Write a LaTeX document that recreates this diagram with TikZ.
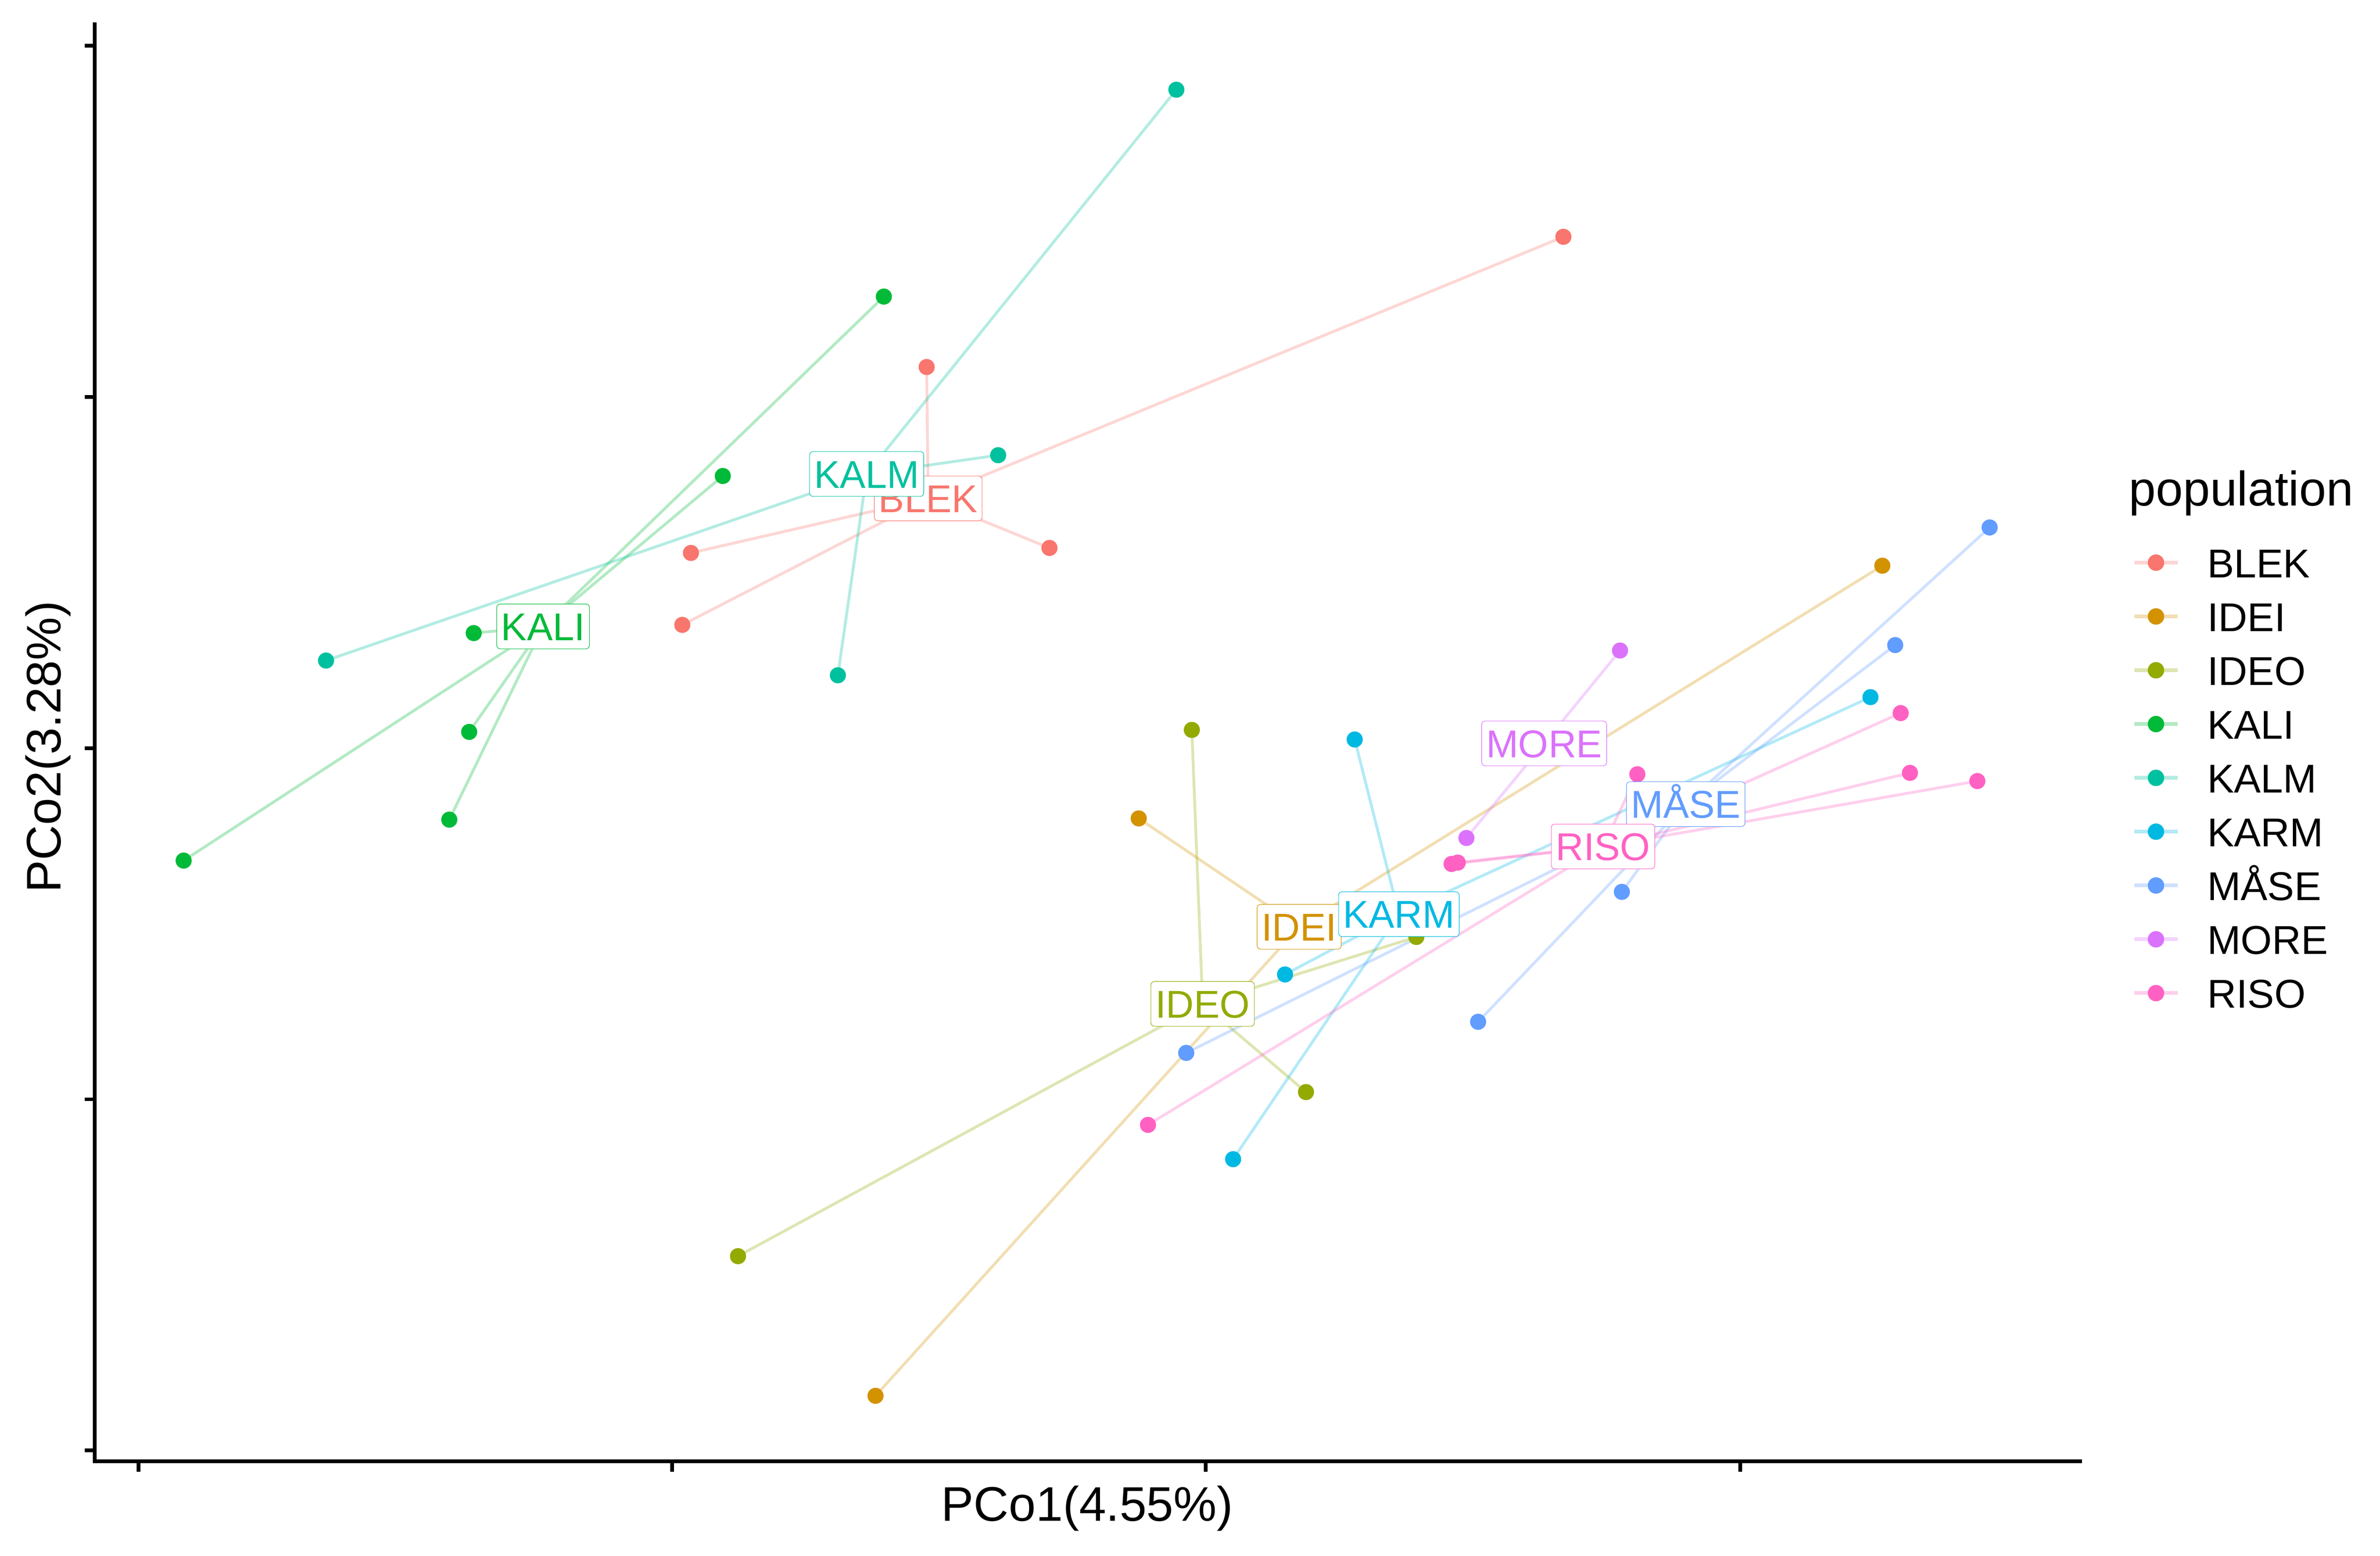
\documentclass[tikz,border=0pt]{standalone}
\usepackage{fontspec}
\setmainfont{Liberation Sans}
\definecolor{cBLEK}{HTML}{F8766D}
\definecolor{cIDEI}{HTML}{D39200}
\definecolor{cIDEO}{HTML}{93AA00}
\definecolor{cKALI}{HTML}{00BA38}
\definecolor{cKALM}{HTML}{00C19F}
\definecolor{cKARM}{HTML}{00B9E3}
\definecolor{cMASE}{HTML}{619CFF}
\definecolor{cMORE}{HTML}{DB72FB}
\definecolor{cRISO}{HTML}{FF61C3}
\tikzset{
  seg/.style={draw=#1, draw opacity=0.3, line width=1.85pt},
  pt/.style={fill=#1},
  lab/.style={draw=#1, fill=white, text=#1, rounded corners=2.3pt, line width=0.35pt,
    inner xsep=2.9pt, inner ysep=5.55pt, text height=18.4pt, text depth=0pt,
    font=\fontsize{25.5}{30}\selectfont},
  axisline/.style={line width=2.5pt, black},
  tickline/.style={line width=2.4pt, black},
  keyline/.style={draw=#1, draw opacity=0.3, line width=2.5pt},
  legtext/.style={anchor=base west, inner sep=0pt, font=\fontsize{26.5}{30}\selectfont},
  titletext/.style={inner sep=0pt, font=\fontsize{32}{38}\selectfont}
}
\begin{document}
\begin{tikzpicture}[x=1pt,y=-1pt]
\useasboundingbox (0,0) rectangle (1568,1025);
% centroids
\coordinate (cBLEK) at (611.5,328.4);
\coordinate (cIDEI) at (855.9,610.6);
\coordinate (cIDEO) at (792.3,661.4);
\coordinate (cKALI) at (357.8,412.7);
\coordinate (cKALM) at (571.0,312.3);
\coordinate (cKARM) at (921.6,602.3);
\coordinate (cMASE) at (1110.6,529.8);
\coordinate (cMORE) at (1017.3,489.8);
\coordinate (cRISO) at (1056.1,557.7);
% points
\coordinate (BLEK1) at (1030,156);
\coordinate (BLEK2) at (610.5,241.8);
\coordinate (BLEK3) at (691.4,361.0);
\coordinate (BLEK4) at (455.2,364.3);
\coordinate (BLEK5) at (449.5,411.7);
\coordinate (IDEI1) at (1240.1,372.7);
\coordinate (IDEI2) at (750.2,539.2);
\coordinate (IDEI3) at (576.8,919.6);
\coordinate (IDEO1) at (785.2,480.9);
\coordinate (IDEO2) at (933.1,617.3);
\coordinate (IDEO3) at (860.4,719.5);
\coordinate (IDEO4) at (486.2,827.6);
\coordinate (KALI1) at (582.3,195.4);
\coordinate (KALI2) at (476.2,313.6);
\coordinate (KALI3) at (312.1,417.1);
\coordinate (KALI4) at (309.1,482.2);
\coordinate (KALI5) at (296,540);
\coordinate (KALI6) at (121,567);
\coordinate (KALM1) at (775.0,59.1);
\coordinate (KALM2) at (657.6,299.9);
\coordinate (KALM3) at (552.0,444.9);
\coordinate (KALM4) at (214.8,435.2);
\coordinate (KARM1) at (892.5,487.2);
\coordinate (KARM2) at (1232.3,459.3);
\coordinate (KARM3) at (846.6,642.0);
\coordinate (KARM4) at (812.4,763.7);
\coordinate (MASE1) at (1310.8,347.5);
\coordinate (MASE2) at (1248.6,425.0);
\coordinate (MASE3) at (1068.5,587.6);
\coordinate (MASE4) at (973.8,673.2);
\coordinate (MASE5) at (781.5,693.7);
\coordinate (MORE1) at (1067.3,428.6);
\coordinate (MORE2) at (966.1,552.1);
\coordinate (RISO1) at (1252.2,469.8);
\coordinate (RISO2) at (1258.3,509.2);
\coordinate (RISO3) at (1302.7,514.6);
\coordinate (RISO4) at (1078.7,510.1);
\coordinate (RISO5) at (960.4,568.3);
\coordinate (RISO6) at (956.3,569.2);
\coordinate (RISO7) at (756.3,741.1);
% axes
\draw[axisline] (62.5,14.8) -- (62.5,962.7) -- (1371.7,962.7);
\foreach \yy in {30.2,261.5,492.9,724.3,955.6} \draw[tickline] (55.7,\yy) -- (62.5,\yy);
\foreach \xx in {91.2,442.7,794.4,1146.5} \draw[tickline] (\xx,962.7) -- (\xx,969.5);
% segments
\foreach \i in {1,...,5} \draw[seg=cBLEK] (cBLEK) -- (BLEK\i);
\foreach \i in {1,...,3} \draw[seg=cIDEI] (cIDEI) -- (IDEI\i);
\foreach \i in {1,...,4} \draw[seg=cIDEO] (cIDEO) -- (IDEO\i);
\foreach \i in {1,...,6} \draw[seg=cKALI] (cKALI) -- (KALI\i);
\foreach \i in {1,...,4} \draw[seg=cKALM] (cKALM) -- (KALM\i);
\foreach \i in {1,...,4} \draw[seg=cKARM] (cKARM) -- (KARM\i);
\foreach \i in {1,...,5} \draw[seg=cMASE] (cMASE) -- (MASE\i);
\foreach \i in {1,...,2} \draw[seg=cMORE] (cMORE) -- (MORE\i);
\foreach \i in {1,...,7} \draw[seg=cRISO] (cRISO) -- (RISO\i);
% points
\foreach \i in {1,...,5} \fill[pt=cBLEK] (BLEK\i) circle (5.3);
\foreach \i in {1,...,3} \fill[pt=cIDEI] (IDEI\i) circle (5.3);
\foreach \i in {1,...,4} \fill[pt=cIDEO] (IDEO\i) circle (5.3);
\foreach \i in {1,...,6} \fill[pt=cKALI] (KALI\i) circle (5.3);
\foreach \i in {1,...,4} \fill[pt=cKALM] (KALM\i) circle (5.3);
\foreach \i in {1,...,4} \fill[pt=cKARM] (KARM\i) circle (5.3);
\foreach \i in {1,...,5} \fill[pt=cMASE] (MASE\i) circle (5.3);
\foreach \i in {1,...,2} \fill[pt=cMORE] (MORE\i) circle (5.3);
\foreach \i in {1,...,7} \fill[pt=cRISO] (RISO\i) circle (5.3);
% labels
\node[lab=cBLEK] (lBLEK) at (cBLEK) {BLEK};
\node[lab=cIDEI] (lIDEI) at (cIDEI) {IDEI};
\node[lab=cIDEO] (lIDEO) at (cIDEO) {IDEO};
\node[lab=cKALI] (lKALI) at (cKALI) {KALI};
\node[lab=cKALM] (lKALM) at (cKALM) {KALM};
\node[lab=cKARM] (lKARM) at (cKARM) {KARM};
\node[lab=cMASE] (lMASE) at (cMASE) {MÅSE};
\node[lab=cMORE] (lMORE) at (cMORE) {MORE};
\node[lab=cRISO] (lRISO) at (cRISO) {RISO};
% axis titles
\node[titletext, anchor=base] (xtitle) at (716.3,1002.2) {PCo1(4.55\%)};
\node[titletext, anchor=base, rotate=90] (ytitle) at (39.9,492) {PCo2(3.28\%)};
% legend
\node[titletext, anchor=base west] (legtitle) at (1402.5,333.1) {population};
\foreach \n/\c/\t [count=\k from 0] in {a/cBLEK/BLEK,b/cIDEI/IDEI,c/cIDEO/IDEO,d/cKALI/KALI,e/cKALM/KALM,f/cKARM/KARM,g/cMASE/MÅSE,h/cMORE/MORE,j/cRISO/RISO}{
  \coordinate (k\n L) at (1406.3,370.7+35.45*\k);
  \coordinate (k\n R) at (1434.6,370.7+35.45*\k);
  \coordinate (k\n M) at (1420.4,370.7+35.45*\k);
  \draw[keyline=\c] (k\n L) -- (k\n R);
  \fill[pt=\c] (k\n M) circle (5.4);
  \node[legtext] (leg\n) at (1454,380.5+35.45*\k) {\t};
}
\end{tikzpicture}
\end{document}
